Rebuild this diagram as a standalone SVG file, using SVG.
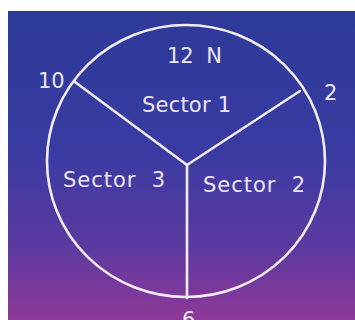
<svg xmlns="http://www.w3.org/2000/svg" width="355" height="320" viewBox="0 0 355 320">
<defs>
<linearGradient id="bg" x1="0" y1="0" x2="0" y2="1">
<stop offset="0" stop-color="#2d3a98"/>
<stop offset="0.45" stop-color="#393ba2"/>
<stop offset="0.75" stop-color="#5a3aa0"/>
<stop offset="1" stop-color="#8e3898"/>
</linearGradient>
<style>
.ln{fill:none;stroke:#f2ecf8;stroke-width:2.6;stroke-linecap:round}
.t{font-family:"DejaVu Sans",sans-serif;fill:#ece6f6;font-size:21px}
</style>
</defs>
<rect width="355" height="320" fill="#ffffff"/>
<rect x="8" y="11" width="347" height="309" fill="url(#bg)"/>
<g id="dial">
<ellipse class="ln" cx="186" cy="161" rx="139" ry="136"/>
</g>
<g id="connectors">
<line class="ln" x1="187" y1="165" x2="75" y2="82"/>
<line class="ln" x1="187" y1="165" x2="300" y2="91"/>
<line class="ln" x1="187" y1="165" x2="187" y2="298"/>
</g>
<g id="labels">
<text class="t" x="167" y="63" textLength="55" lengthAdjust="spacing" xml:space="preserve">12  N</text>
<text class="t" x="38" y="88">10</text>
<text class="t" x="324" y="100">2</text>
<text class="t" x="182" y="327">6</text>
</g>
<g id="sector1"><text class="t" x="142" y="112" textLength="89" lengthAdjust="spacing">Sector 1</text></g>
<g id="sector3"><text class="t" x="63" y="187" textLength="102" lengthAdjust="spacing" xml:space="preserve">Sector  3</text></g>
<g id="sector2"><text class="t" x="203" y="192" textLength="102" lengthAdjust="spacing" xml:space="preserve">Sector  2</text></g>
</svg>
